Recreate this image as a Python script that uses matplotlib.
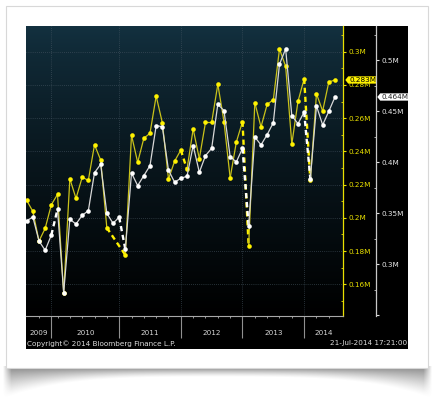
import numpy as np
import matplotlib
matplotlib.use("Agg")
import matplotlib.pyplot as plt
from matplotlib.path import Path
from matplotlib.patches import Rectangle
from matplotlib.transforms import blended_transform_factory
from matplotlib.ticker import FixedLocator, MultipleLocator, FuncFormatter

nan = np.nan

# ---------------- data ----------------
period = list(range(51))
yellow_vals = [0.2105, 0.2039, 0.1860, 0.1937, 0.2079, 0.2141, 0.1549, 0.2235, 0.2117, 0.2244,
               0.2226, 0.2440, 0.2348, 0.1940, nan, nan, 0.1776, 0.2498, 0.2334, 0.2479,
               0.2509, 0.2733, 0.2573, 0.2234, 0.2342, 0.2408, 0.2292, 0.2535, 0.2356, 0.2575,
               0.2575, 0.2804, 0.2579, 0.2240, 0.2456, 0.2579, 0.1830, 0.2693, 0.2547, 0.2683,
               0.2711, 0.3016, 0.2912, 0.2444, 0.2701, 0.2837, 0.2226, 0.2747, 0.2643, 0.2818,
               0.2830]
white_vals = [0.3425, 0.3464, 0.3228, 0.3137, 0.3287, 0.3539, 0.2722, 0.3441, 0.3395, 0.3480,
              0.3525, 0.3898, 0.3980, 0.3500, 0.3402, 0.3461, 0.3147, 0.3895, 0.3771, 0.3869,
              0.3967, 0.4359, 0.4349, 0.3922, 0.3804, 0.3843, 0.3863, 0.4163, 0.3902, 0.4065,
              0.4137, 0.4569, 0.4506, 0.4055, 0.4003, 0.4137, 0.3378, 0.4248, 0.4170, 0.4271,
              0.4388, 0.4961, 0.5111, 0.4457, 0.4378, 0.4493, 0.3839, 0.4552, 0.4366, 0.4500,
              0.4640]
yellow_dashed_from = [13, 25, 35, 45]
white_dashed_from = [4, 15, 35, 45]
year_labels = ["2009", "2010", "2011", "2012", "2013", "2014"]
year_dividers = [4, 15, 25, 35, 45]
date_minor_ticks = [2, 5, 7, 9, 11, 13, 17, 19, 21, 23, 27, 29, 31, 33, 37, 39, 41, 43, 47, 49]
yellow_last_label = "0.283M"
white_last_label = "0.464M"
copyright_text = "Copyright\u00a9 2014 Bloomberg Finance L.P."
timestamp_text = "21-Jul-2014 17:21:00"

# ---------------- figure ----------------
W, H = 442, 398
fig = plt.figure(figsize=(W / 100, H / 100), dpi=100, facecolor="white")

def frac(x0, y0, x1, y1):
    return [x0 / W, 1 - y1 / H, (x1 - x0) / W, (y1 - y0) / H]

bg = fig.add_axes([0, 0, 1, 1])
bg.set_xlim(0, W)
bg.set_ylim(H, 0)
bg.axis("off")

# curved drop shadow under the card
cx0, cx1, cy1 = 6, 428, 368
sx0, sx1 = 3, 432
xs = np.arange(sx0, sx1) + 0.5
ys = np.arange(cy1 - 2, H) + 0.5
XX, YY = np.meshgrid(xs, ys)
u = (XX - (sx0 + sx1) / 2) / ((sx1 - sx0) / 2)
depth = 9 + 18 * u ** 4 + 4 * u ** 2
t = np.clip(1 - (YY - cy1) / depth, 0, 1)
edge = np.clip((1 - np.abs(u)) * 25, 0, 1)
alpha = 0.75 * t ** 1.3 * edge
sh = np.zeros(XX.shape + (4,))
sh[..., :3] = 0.42
sh[..., 3] = alpha
bg.imshow(sh, extent=(sx0, sx1, H, cy1 - 2), origin="upper", aspect="auto", interpolation="bilinear", zorder=0)

# card
bg.add_patch(Rectangle((cx0, 6), cx1 - cx0, cy1 - 6, facecolor="white", edgecolor="#d8d8d8", lw=0.8, zorder=1))
# black panel
bg.add_patch(Rectangle((26, 26), 408 - 26, 349 - 26, facecolor="black", edgecolor="none", zorder=2))
# gradient plot background
grad = np.linspace(0, 1, 256)[:, None]
top = np.array([0x13, 0x31, 0x40]) / 255
bot = np.array([0.0, 0.0, 0.0])
g = (1 - grad ** 0.8)[..., None] * top + (grad ** 0.8)[..., None] * bot
g = np.repeat(g, 2, axis=1)
bg.imshow(g, extent=(26, 343, 316, 26), origin="upper", aspect="auto", interpolation="bilinear", zorder=3)
bg.set_xlim(0, W)
bg.set_ylim(H, 0)

# ---------------- main axes ----------------
ax = fig.add_axes(frac(26, 26, 343, 316))
ax.set_facecolor("none")
x_left = -0.11
x_right = 51.3
ax.set_xlim(x_left, x_right)
ax.set_ylim(0.1409, 0.3155)

ax2 = ax.twinx()
ax2.set_ylim(0.2493, 0.5336)
ax2.set_xlim(x_left, x_right)

yl = "#e9e000"
ycol_line = "#c9c21a"
ymark = "#fff200"
wline = "#d8d8d8"
wmark = "#ffffff"
font = "DejaVu Sans"
fs = 5.2

def draw_series(axis, vals, dashed_from, lcol, dcol, mcol, z):
    xv = np.array(period, dtype=float)
    yv = np.array(vals, dtype=float)
    valid = [i for i in range(len(yv)) if not np.isnan(yv[i])]
    for a, b in zip(valid[:-1], valid[1:]):
        if a in dashed_from:
            axis.plot(xv[[a, b]], yv[[a, b]], color=dcol, lw=1.7, ls=(0, (2.2, 1.6)), zorder=z, solid_capstyle="butt")
        else:
            axis.plot(xv[[a, b]], yv[[a, b]], color=lcol, lw=0.9, zorder=z)
    axis.plot(xv[valid], yv[valid], ls="none", marker="o", ms=3.3, mfc=mcol, mec=mcol, mew=0, zorder=z + 0.5)

draw_series(ax, yellow_vals, yellow_dashed_from, ycol_line, ymark, ymark, 3)
draw_series(ax2, white_vals, white_dashed_from, wline, "#ffffff", wmark, 3)

# grid
ax.set_yticks(np.arange(0.16, 0.301, 0.02))
ax.yaxis.set_minor_locator(FixedLocator(np.arange(0.15, 0.311, 0.02)))
ax.set_xticks(year_dividers)
ax.xaxis.set_minor_locator(FixedLocator(date_minor_ticks))
ax.grid(True, which="major", color="#4a5a66", ls=(0, (1, 2)), lw=0.5)
ax.set_axisbelow(True)

# spines
for s in ["top", "left"]:
    ax.spines[s].set_visible(False)
ax.spines["right"].set_color(yl)
ax.spines["right"].set_linewidth(0.9)
ax.spines["bottom"].set_color("#a8a8a8")
ax.spines["bottom"].set_linewidth(0.8)

ax.yaxis.tick_right()
ax.tick_params(axis="y", which="major", colors=yl, direction="out", length=2.5, width=0.8, pad=1.2,
               labelsize=fs, labelcolor=yl, left=False, right=True, labelleft=False, labelright=True)
ax.tick_params(axis="y", which="minor", colors=yl, direction="in", length=1.5, width=0.6, left=False, right=True)
ax.yaxis.set_major_formatter(FuncFormatter(lambda v, p: f"{v:g}M"))
for lab in ax.get_yticklabels():
    lab.set_fontfamily(font)

ax.tick_params(axis="x", which="major", colors="#909090", direction="out", length=15.5, width=0.8,
               labelbottom=False)
ax.tick_params(axis="x", which="minor", colors="#b0b0b0", direction="out", length=1.3, width=0.6)

# second axis
for s in ["top", "left", "bottom"]:
    ax2.spines[s].set_visible(False)
ax2.spines["right"].set_position(("axes", (376 - 26) / (343 - 26)))
ax2.spines["right"].set_color("#c8c8c8")
ax2.spines["right"].set_linewidth(0.9)
ax2.set_yticks(np.arange(0.25, 0.501, 0.05))
ax2.yaxis.set_minor_locator(MultipleLocator(0.025))
ax2.yaxis.set_major_formatter(FuncFormatter(lambda v, p: "" if v < 0.26 else f"{v:g}M"))
ax2.tick_params(axis="y", which="major", colors="#e0e0e0", direction="out", length=2.5, width=0.8, pad=1.2,
                labelsize=fs, labelcolor="#e8e8e8")
ax2.tick_params(axis="y", which="minor", colors="#c8c8c8", direction="in", length=1.5, width=0.6)
for lab in ax2.get_yticklabels():
    lab.set_fontfamily(font)

# year labels
tr = blended_transform_factory(ax.transData, ax.transAxes)
bounds = [x_left] + year_dividers + [x_right]
for k, lab in enumerate(year_labels):
    xm = (bounds[k] + bounds[k + 1]) / 2
    ax.text(xm, -(333 - 316) / 290, lab, transform=tr, ha="center", va="center",
            fontsize=fs, color="#d8d8d8", family=font, clip_on=False)

# last-value labels
def left_pointer(x0, y0, width, height, mutation_size):
    pad = 0.18 * mutation_size
    x0 -= pad * 0.6
    y0 -= pad * 0.5
    width += pad * 1.2
    height += pad * 1.0
    tip = height * 0.4
    verts = [(x0, y0), (x0 + width, y0), (x0 + width, y0 + height), (x0, y0 + height),
             (x0 - tip, y0 + height / 2), (x0, y0)]
    return Path(verts, closed=True)

tr1 = blended_transform_factory(ax.transAxes, ax.transData)
ax.text((349 - 26) / 317, yellow_vals[-1], yellow_last_label, transform=tr1, ha="left", va="center",
        fontsize=fs, color="black", family=font, clip_on=False, zorder=10,
        bbox=dict(boxstyle=left_pointer, fc=ymark, ec="none"))
tr2 = blended_transform_factory(ax2.transAxes, ax2.transData)
ax2.text((381 - 26) / 317, white_vals[-1], white_last_label, transform=tr2, ha="left", va="center",
         fontsize=fs, color="#222222", family=font, clip_on=False, zorder=10,
         bbox=dict(boxstyle=left_pointer, fc="white", ec="none"))

# footer
fig.text(27 / W, 1 - 343.5 / H, copyright_text, ha="left", va="center", fontsize=fs, color="#dcdcdc", family=font)
fig.text(407 / W, 1 - 343.5 / H, timestamp_text, ha="right", va="center", fontsize=fs, color="#dcdcdc", family=font)

fig.savefig("out.png", dpi=100, facecolor="white")
